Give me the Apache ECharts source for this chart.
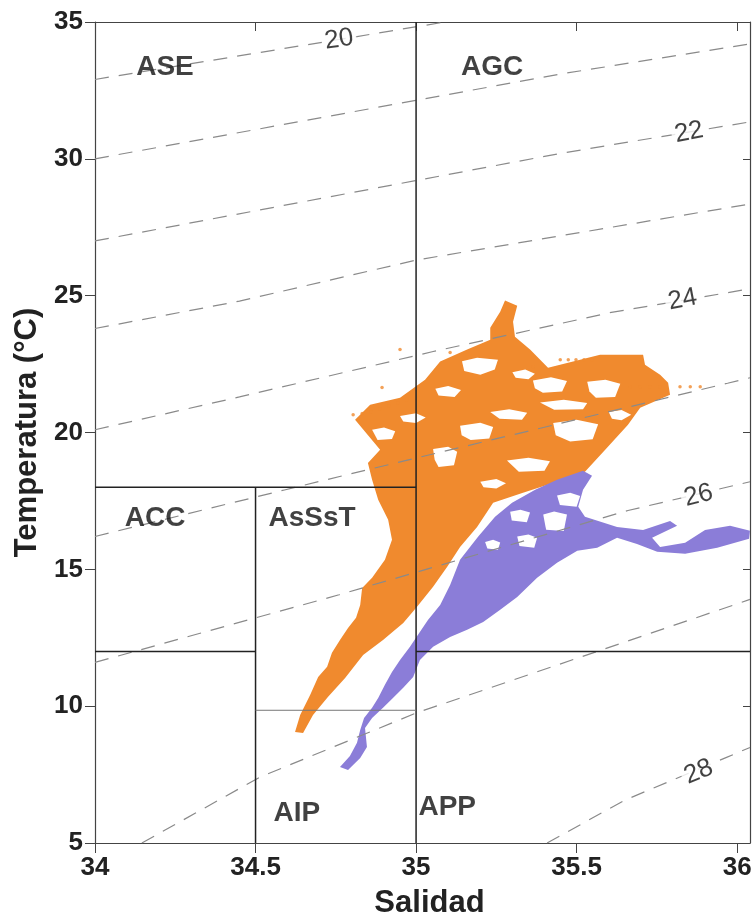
<!DOCTYPE html>
<html>
<head>
<meta charset="utf-8">
<script src="https://cdn.jsdelivr.net/npm/echarts@6/dist/echarts.min.js"></script>
<style>
  html, body { margin: 0; padding: 0; background: #fff; }
  #chart { width: 753px; height: 920px; }
</style>
</head>
<body>
<div id="chart"></div>
<script>
// ---- axis ticks ----
var xTicks = [34, 34.5, 35, 35.5, 36];
var yTicks = [5, 10, 15, 20, 25, 30, 35];

// ---- water mass boxes (salinity, temperature) ----
var boxLines = [
  [[35, 5], [35, 35]],
  [[34, 18], [35, 18]],
  [[34.5, 5], [34.5, 18]],
  [[34, 12], [34.5, 12]],
  [[35, 12], [36.04, 12]]
];
var thinLine = [[34.5, 9.85], [35, 9.85]];
var regionNames = ['ASE', 'AGC', 'ACC', 'AsSsT', 'AIP', 'APP'];
var regionS = [34.218, 35.237, 34.187, 34.676, 34.629, 35.097];
var regionT = [33.34, 33.34, 16.88, 16.88, 6.10, 6.32];

// ---- sigma-t isolines ----
var isoLines = {
  20: [[34, 32.9], [34.76, 34.36], [35.09, 35]],
  21: [[34, 30.0], [35.45, 33.1], [36.04, 34.2]],
  22: [[34, 27.0], [35.45, 30.2], [36.04, 31.35]],
  23: [[34, 23.8], [34.45, 24.8], [35, 26.3], [36.04, 28.35]],
  24: [[34, 20.1], [34.45, 21.3], [35.05, 22.95], [35.6, 24.37], [36.04, 25.25]],
  25: [[34, 16.2], [34.59, 17.9], [34.87, 18.7], [35.97, 21.8], [36.04, 22.0]],
  26: [[34, 11.6], [34.76, 14.07], [35.66, 17.15], [36.04, 18.2]],
  27: [[34.146, 5], [34.514, 7.41], [35.0, 9.75], [36.04, 13.9]],
  28: [[35.408, 5], [35.651, 6.57], [35.967, 8.13], [36.04, 8.49]]
};
var isoLabelText = ['20', '22', '24', '26', '28'];
var isoLabelS = [34.76, 35.85, 35.83, 35.88, 35.88];
var isoLabelT = [34.36, 30.96, 24.85, 17.7, 7.6];

// ---- orange cloud (outline of the dense scatter) ----
var orangeCloud = [
  [34.623, 9.06], [34.639, 9.68], [34.670, 10.41], [34.695, 11.07], [34.723, 11.44],
  [34.738, 11.95], [34.763, 12.42], [34.788, 12.86], [34.813, 13.23], [34.826, 13.70],
  [34.832, 14.32], [34.863, 14.69], [34.903, 15.35], [34.925, 16.08], [34.913, 16.81],
  [34.882, 17.54], [34.863, 18.27], [34.850, 18.89], [34.888, 19.37], [34.810, 20.47],
  [34.857, 21.01], [34.950, 21.27], [35.028, 21.93], [35.075, 22.59], [35.159, 23.03],
  [35.231, 23.39], [35.231, 23.83], [35.262, 24.41], [35.277, 24.82], [35.315, 24.63],
  [35.302, 24.05], [35.308, 23.50], [35.355, 23.03], [35.411, 22.37], [35.573, 22.84],
  [35.707, 22.84], [35.713, 22.48], [35.760, 22.11], [35.785, 21.82], [35.791, 21.38],
  [35.698, 20.90], [35.660, 20.28], [35.589, 19.37], [35.526, 18.57], [35.458, 18.27],
  [35.333, 17.80], [35.240, 17.43], [35.190, 16.55], [35.137, 15.82], [35.097, 15.09],
  [35.053, 14.36], [35.003, 13.63], [34.960, 13.04], [34.897, 12.42], [34.835, 11.87],
  [34.779, 11.03], [34.726, 10.34], [34.679, 9.68], [34.648, 9.02]
];
var orangeHoles = [
  [[35.143, 22.60], [35.190, 22.73], [35.255, 22.66], [35.245, 22.30], [35.200, 22.11], [35.150, 22.25]],
  [[35.364, 21.90], [35.420, 22.02], [35.470, 21.88], [35.455, 21.50], [35.395, 21.45], [35.370, 21.62]],
  [[35.231, 20.75], [35.290, 20.85], [35.346, 20.72], [35.330, 20.47], [35.260, 20.50]],
  [[35.137, 20.25], [35.200, 20.36], [35.240, 20.20], [35.228, 19.78], [35.170, 19.73], [35.142, 19.90]],
  [[35.386, 21.10], [35.460, 21.20], [35.533, 21.08], [35.520, 20.85], [35.430, 20.83]],
  [[35.053, 19.40], [35.100, 19.48], [35.128, 19.30], [35.118, 18.80], [35.070, 18.74], [35.058, 19.00]],
  [[35.533, 21.85], [35.590, 21.93], [35.636, 21.78], [35.620, 21.30], [35.560, 21.27], [35.540, 21.50]],
  [[35.283, 18.98], [35.350, 19.08], [35.417, 18.95], [35.400, 18.60], [35.320, 18.57]],
  [[35.427, 20.35], [35.500, 20.47], [35.567, 20.30], [35.550, 19.75], [35.480, 19.67], [35.435, 19.90]],
  [[34.863, 20.10], [34.900, 20.18], [34.935, 20.05], [34.925, 19.76], [34.880, 19.73]],
  [[35.06, 21.60], [35.10, 21.70], [35.14, 21.55], [35.12, 21.30], [35.07, 21.35]],
  [[35.30, 22.20], [35.34, 22.30], [35.37, 22.15], [35.35, 21.95], [35.31, 22.00]],
  [[34.95, 20.60], [35.00, 20.70], [35.03, 20.55], [35.00, 20.35], [34.96, 20.40]],
  [[35.60, 20.75], [35.64, 20.82], [35.67, 20.65], [35.64, 20.45], [35.61, 20.50]],
  [[35.20, 18.20], [35.25, 18.30], [35.28, 18.15], [35.25, 17.95], [35.21, 18.00]]
];
var orangeDotsS = [34.804, 34.832, 34.860, 34.888, 34.916, 34.944, 34.972, 35.000, 34.950, 34.894,
  35.449, 35.474, 35.498, 35.523, 35.548, 35.667, 35.698, 35.729, 35.760, 35.822, 35.854, 35.885,
  35.106, 35.364];
var orangeDotsT = [20.65, 20.69, 20.76, 20.87, 20.98, 21.09, 21.20, 21.27, 23.03, 21.64,
  22.66, 22.66, 22.66, 22.66, 22.66, 21.67, 21.67, 21.67, 21.67, 21.67, 21.67, 21.67,
  22.92, 22.40];

// ---- purple cloud ----
var purpleCloud = [
  [35.520, 18.60], [35.548, 18.42], [35.520, 17.91], [35.505, 17.29], [35.526, 16.92],
  [35.626, 16.55], [35.707, 16.44], [35.791, 16.77], [35.813, 16.59], [35.735, 16.15],
  [35.760, 15.82], [35.838, 15.97], [35.900, 16.44], [35.978, 16.59], [36.040, 16.41],
  [36.037, 16.12], [35.938, 15.79], [35.838, 15.57], [35.751, 15.64], [35.688, 15.93],
  [35.626, 16.15], [35.564, 15.79], [35.502, 15.68], [35.439, 15.24], [35.377, 14.69],
  [35.315, 13.99], [35.262, 13.52], [35.209, 13.08], [35.159, 12.79], [35.106, 12.53],
  [35.053, 12.17], [35.012, 11.69], [34.991, 11.07], [34.960, 10.67], [34.928, 10.30],
  [34.897, 9.94], [34.863, 9.57], [34.841, 9.20], [34.847, 8.51], [34.826, 8.11],
  [34.788, 7.67], [34.763, 7.78], [34.794, 8.18], [34.816, 8.66], [34.826, 9.13],
  [34.838, 9.57], [34.863, 9.94], [34.882, 10.30], [34.903, 10.78], [34.925, 11.25],
  [34.950, 11.69], [34.981, 12.17], [35.006, 12.61], [35.037, 13.15], [35.075, 13.70],
  [35.106, 14.43], [35.137, 15.35], [35.193, 16.19], [35.246, 16.92], [35.299, 17.43],
  [35.371, 17.91], [35.439, 18.27]
];
var purpleHoles = [
  [[35.293, 17.10], [35.325, 17.18], [35.355, 17.08], [35.345, 16.72], [35.298, 16.78]],
  [[35.396, 17.00], [35.430, 17.11], [35.470, 17.00], [35.460, 16.40], [35.405, 16.45]],
  [[35.315, 16.20], [35.350, 16.27], [35.377, 16.15], [35.368, 15.79], [35.322, 15.85]],
  [[35.439, 17.70], [35.480, 17.80], [35.511, 17.68], [35.500, 17.29], [35.448, 17.35]],
  [[35.215, 16.00], [35.240, 16.08], [35.262, 15.98], [35.255, 15.72], [35.222, 15.76]]
];

var orange = '#F08A2E';
var purple = '#8B7DD8';
var font = "'Liberation Sans', Arial, Helvetica, sans-serif";

function polygonSeries(points, color, z) {
  return {
    type: 'custom',
    silent: true,
    clip: true,
    z: z,
    data: points,
    renderItem: function (params, api) {
      if (params.dataIndex !== 0) return null;
      return {
        type: 'polygon',
        shape: { points: points.map(function (p) { return api.coord(p); }) },
        style: { fill: color }
      };
    }
  };
}

function lineSeries(points, style, z) {
  return {
    type: 'line',
    silent: true,
    symbol: 'none',
    animation: false,
    z: z,
    data: points,
    lineStyle: style
  };
}

var series = [];
series.push(polygonSeries(orangeCloud, orange, 2));
orangeHoles.forEach(function (h) { series.push(polygonSeries(h, '#fff', 3)); });
series.push({
  type: 'scatter', silent: true, z: 3, symbolSize: 3.5,
  itemStyle: { color: orange },
  data: orangeDotsS.map(function (s, i) { return [s, orangeDotsT[i]]; })
});
series.push(polygonSeries(purpleCloud, purple, 4));
purpleHoles.forEach(function (h) { series.push(polygonSeries(h, '#fff', 5)); });

Object.keys(isoLines).forEach(function (k) {
  series.push(lineSeries(isoLines[k], { color: '#8a8a8a', width: 1.2, type: [14, 10] }, 6));
});
boxLines.forEach(function (b) {
  series.push(lineSeries(b, { color: '#222', width: 1.5 }, 7));
});
series.push(lineSeries(thinLine, { color: '#777', width: 1 }, 7));

var isoAngle = [8, 11, 11, 14, 22];
series.push({
  type: 'scatter', silent: true, z: 8, symbolSize: 0,
  data: isoLabelText.map(function (t, i) {
    return {
      value: [isoLabelS[i], isoLabelT[i]], name: t,
      label: { rotate: isoAngle[i] }
    };
  }),
  label: {
    show: true, position: 'inside', formatter: '{b}',
    fontFamily: font, fontSize: 26, color: '#111',
    textBorderWidth: 0, textBorderColor: 'transparent',
    backgroundColor: '#fff', padding: [0, 3]
  }
});
series.push({
  type: 'scatter', silent: true, z: 8, symbolSize: 0,
  data: regionNames.map(function (n, i) {
    return { value: [regionS[i], regionT[i]], name: n };
  }),
  label: {
    show: true, position: 'inside', formatter: '{b}',
    fontFamily: font, fontSize: 28, fontWeight: 'bold', color: '#111',
    textBorderWidth: 0, textBorderColor: 'transparent'
  }
});

var chart = echarts.init(document.getElementById('chart'));
chart.setOption({
  animation: false,
  backgroundColor: '#fff',
  grid: { left: 95, right: 3, top: 22, bottom: 77, containLabel: false, outerBoundsMode: 'none' },
  xAxis: [{
    type: 'value', min: 34, max: 36.04, interval: 0.5,
    name: 'Salidad', nameLocation: 'middle', nameGap: 45,
    nameTextStyle: { fontFamily: font, fontSize: 31, fontWeight: 'bold', color: '#222', padding: [0, 0, 0, 14] },
    axisLine: { lineStyle: { color: '#444', width: 1.2 } },
    axisTick: { show: true, length: 10, customValues: xTicks, lineStyle: { color: '#444' } },
    axisLabel: { customValues: xTicks, margin: 12, fontFamily: font, fontSize: 26, fontWeight: 'bold', color: '#222' },
    splitLine: { show: false }
  }, {
    type: 'value', min: 34, max: 36.04, position: 'top',
    axisLine: { lineStyle: { color: '#444', width: 1.2 } },
    axisTick: { show: true, inside: true, length: 9, customValues: xTicks, lineStyle: { color: '#444' } },
    axisLabel: { show: false },
    splitLine: { show: false }
  }],
  yAxis: [{
    type: 'value', min: 5, max: 35, interval: 5,
    name: 'Temperatura (°C)', nameLocation: 'middle', nameGap: 52,
    nameTextStyle: { fontFamily: font, fontSize: 31, fontWeight: 'bold', color: '#222' },
    axisLine: { show: true, lineStyle: { color: '#444', width: 1.2 } },
    axisTick: { show: true, length: 10, lineStyle: { color: '#444' } },
    axisLabel: { margin: 12, fontFamily: font, fontSize: 26, fontWeight: 'bold', color: '#222' },
    splitLine: { show: false }
  }, {
    type: 'value', min: 5, max: 35, interval: 5, position: 'right',
    axisLine: { show: true, lineStyle: { color: '#444', width: 1.2 } },
    axisTick: { show: true, inside: true, length: 7, lineStyle: { color: '#444' } },
    axisLabel: { show: false },
    splitLine: { show: false }
  }],
  series: series
});
</script>
</body>
</html>
